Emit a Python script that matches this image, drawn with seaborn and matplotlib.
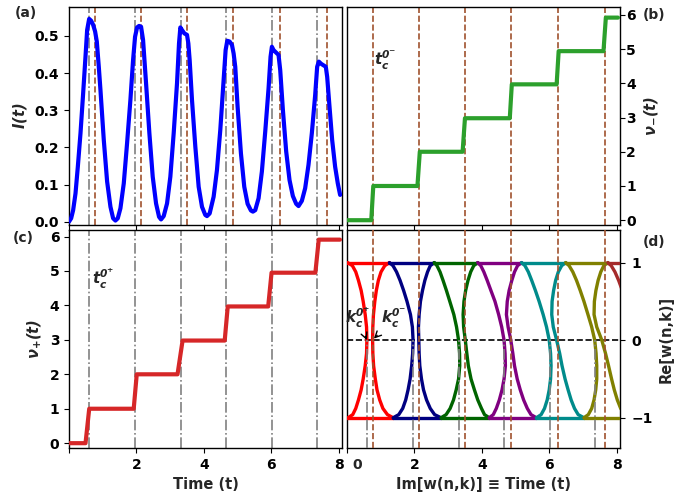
import matplotlib
matplotlib.use("Agg")
import matplotlib.pyplot as plt
import numpy as np
import pandas as pd
import seaborn as sns

# ---------------------------------------------------------------- data
# critical times of the two bands
T_PLUS = [0.59, 1.96, 3.31, 4.66, 6.01, 7.36]
T_MINUS = [0.76, 2.13, 3.51, 4.88, 6.26, 7.65]

# (a) return rate I(t)
TIME_I = [0.0, 0.064, 0.123, 0.193, 0.262, 0.341, 0.420, 0.489, 0.538, 0.598,
          0.657, 0.716, 0.775, 0.825, 0.884, 0.933, 1.032, 1.131, 1.230, 1.309,
          1.378, 1.447, 1.526, 1.625, 1.723, 1.822, 1.901, 1.960, 2.020, 2.079,
          2.138, 2.198, 2.286, 2.385, 2.484, 2.583, 2.672, 2.731, 2.810, 2.909,
          3.007, 3.106, 3.205, 3.264, 3.304, 3.353, 3.422, 3.501, 3.541, 3.580,
          3.649, 3.748, 3.847, 3.946, 4.044, 4.094, 4.173, 4.291, 4.390, 4.489,
          4.588, 4.647, 4.696, 4.765, 4.835, 4.884, 4.933, 5.002, 5.101, 5.200,
          5.299, 5.398, 5.457, 5.526, 5.625, 5.723, 5.822, 5.921, 5.980, 6.020,
          6.069, 6.148, 6.217, 6.267, 6.346, 6.444, 6.543, 6.642, 6.741, 6.810,
          6.909, 7.007, 7.106, 7.205, 7.304, 7.363, 7.412, 7.482, 7.551, 7.620,
          7.660, 7.729, 7.808, 7.896, 7.975, 8.044]
RATE_I = [0.0, 0.009, 0.031, 0.076, 0.148, 0.238, 0.346, 0.444, 0.516, 0.546,
          0.541, 0.530, 0.512, 0.485, 0.417, 0.355, 0.220, 0.108, 0.040, 0.009,
          0.003, 0.009, 0.036, 0.103, 0.211, 0.328, 0.435, 0.498, 0.523, 0.527,
          0.525, 0.489, 0.373, 0.238, 0.121, 0.049, 0.013, 0.006, 0.015, 0.049,
          0.121, 0.238, 0.373, 0.480, 0.523, 0.516, 0.507, 0.503, 0.480, 0.435,
          0.328, 0.202, 0.094, 0.040, 0.018, 0.015, 0.022, 0.067, 0.139, 0.247,
          0.382, 0.462, 0.487, 0.485, 0.476, 0.453, 0.417, 0.310, 0.184, 0.094,
          0.048, 0.030, 0.027, 0.031, 0.063, 0.135, 0.242, 0.359, 0.444, 0.471,
          0.462, 0.455, 0.449, 0.408, 0.301, 0.189, 0.112, 0.069, 0.048, 0.042,
          0.056, 0.090, 0.153, 0.238, 0.341, 0.417, 0.431, 0.425, 0.421, 0.417,
          0.390, 0.310, 0.220, 0.148, 0.103, 0.072]

# (b) winding number nu_-(t)
TIME_NM = [0.0, 0.72, 0.78, 2.09, 2.16, 3.43, 3.50, 4.83, 4.89, 6.22, 6.28,
           7.61, 7.68, 8.04]
NU_MINUS = [0.0, 0.0, 1.0, 1.0, 2.0, 2.0, 2.98, 2.98, 3.97, 3.97, 4.94, 4.94,
            5.92, 5.92]

# (c) winding number nu_+(t)
TIME_NP = [0.0, 0.49, 0.60, 1.92, 2.01, 3.22, 3.37, 4.62, 4.71, 5.91, 6.01,
           7.31, 7.41, 8.04]
NU_PLUS = [0.0, 0.0, 1.0, 1.0, 2.0, 2.0, 2.98, 2.98, 3.97, 3.97, 4.95, 4.95,
           5.91, 5.91]

# (d) Fisher-zero lines: Im[w] sampled at fixed Re[w]
RE_LEVELS = [1.0, 0.96, 0.88, 0.77, 0.64, 0.5, 0.33, 0.17, 0.0,
             -0.17, -0.33, -0.5, -0.64, -0.77, -0.88, -0.96, -1.0]
ZEROS_L0 = [0.02, 0.16, 0.26, 0.34, 0.42, 0.48, 0.54, 0.58, 0.59,
            0.58, 0.54, 0.48, 0.42, 0.34, 0.26, 0.17, 0.03]
ZEROS_R0 = [1.26, 1.12, 1.01, 0.93, 0.87, 0.825, 0.785, 0.766, 0.76,
            0.767, 0.79, 0.84, 0.89, 0.97, 1.065, 1.2, 1.37]
ZEROS_L1 = [1.26, 1.365, 1.47, 1.575, 1.68, 1.78, 1.883, 1.94, 1.96,
            1.948, 1.919, 1.872, 1.812, 1.742, 1.653, 1.535, 1.37]
ZEROS_R1 = [2.59, 2.47, 2.39, 2.31, 2.24, 2.18, 2.14, 2.12, 2.13,
            2.14, 2.16, 2.21, 2.27, 2.36, 2.47, 2.6, 2.79]
ZEROS_L2 = [2.59, 2.67, 2.76, 2.85, 2.95, 3.05, 3.17, 3.25, 3.31,
            3.34, 3.345, 3.31, 3.24, 3.16, 3.06, 2.94, 2.79]
ZEROS_R2 = [3.88, 3.76, 3.67, 3.59, 3.52, 3.47, 3.445, 3.46, 3.51,
            3.555, 3.60, 3.68, 3.78, 3.88, 3.99, 4.08, 4.22]
ZEROS_L3 = [3.88, 3.97, 4.06, 4.16, 4.27, 4.39, 4.50, 4.59, 4.66,
            4.69, 4.70, 4.66, 4.60, 4.52, 4.43, 4.34, 4.22]
ZEROS_R3 = [5.18, 5.06, 4.97, 4.89, 4.81, 4.755, 4.73, 4.78, 4.86,
            4.92, 4.97, 5.05, 5.14, 5.24, 5.35, 5.46, 5.62]
ZEROS_L4 = [5.18, 5.28, 5.38, 5.48, 5.59, 5.70, 5.82, 5.92, 6.0,
            6.04, 6.055, 6.04, 6.0, 5.94, 5.86, 5.76, 5.62]
ZEROS_R4 = [6.49, 6.37, 6.27, 6.19, 6.13, 6.085, 6.075, 6.12, 6.22,
            6.31, 6.38, 6.47, 6.56, 6.65, 6.75, 6.86, 7.03]
ZEROS_L5 = [6.49, 6.59, 6.70, 6.81, 6.92, 7.03, 7.15, 7.26, 7.35,
            7.39, 7.41, 7.41, 7.38, 7.33, 7.26, 7.16, 7.03]
ZEROS_R5 = [7.74, 7.62, 7.53, 7.45, 7.385, 7.34, 7.33, 7.41, 7.56,
            7.67, 7.76, 7.85, 7.93, 8.02, 8.12, 8.25, 8.44]
ZEROS_L6 = [7.74, 7.84, 7.95, 8.06, 8.17]
TOP_EDGES = [0.0, 1.26, 2.59, 3.88, 5.18, 6.49, 7.74, 9.04]
BOTTOM_EDGES = [0.0, 1.37, 2.79, 4.22, 5.62, 7.03, 8.44]
BAND_COLORS = ["red", "navy", "darkgreen", "purple", "darkcyan", "olive", "brown"]

# ---------------------------------------------------------------- style
sns.set_style("ticks")
plt.rcParams.update({
    "font.family": ["DejaVu Sans"],
    "font.weight": "bold",
    "axes.labelweight": "bold",
    "font.size": 10,
    "axes.labelsize": 10.5,
    "xtick.labelsize": 10,
    "ytick.labelsize": 10,
    "mathtext.fontset": "dejavusans",
    "axes.edgecolor": "black",
    "axes.linewidth": 1.0,
    "xtick.color": "black",
    "ytick.color": "black",
})

W, H = 693, 496
fig = plt.figure(figsize=(W / 100, H / 100), dpi=100)


def px_axes(left, top, right, bottom):
    return fig.add_axes([left / W, 1 - bottom / H, (right - left) / W, (bottom - top) / H])


ax_a = px_axes(69, 7, 342, 225)
ax_b = px_axes(347, 7, 620, 225)
ax_c = px_axes(69, 230, 342, 448)
ax_d = px_axes(347, 230, 620, 448)

GRAY = "gray"
SIENNA = "sienna"
XT = [0, 2, 4, 6, 8]

# (a) return rate
sns.lineplot(x=TIME_I, y=RATE_I, ax=ax_a, color="blue", lw=3, zorder=3)
for t in T_PLUS:
    ax_a.axvline(t, color=GRAY, ls="-.", lw=1.2, zorder=1)
for t in T_MINUS:
    ax_a.axvline(t, color=SIENNA, ls="--", lw=1.2, zorder=1)
ax_a.set_xlim(0, 8.1)
ax_a.set_ylim(-0.009, 0.578)
ax_a.set_yticks([0.0, 0.1, 0.2, 0.3, 0.4, 0.5])
ax_a.set_xticks(XT)
ax_a.set_xticklabels([])
ax_a.set_ylabel(r"$\mathbfit{I(t)}$")

# (b) nu_-
sns.lineplot(x=TIME_NM, y=NU_MINUS, ax=ax_b, color="#2ca02c", lw=3, zorder=3)
for t in T_MINUS:
    ax_b.axvline(t, color=SIENNA, ls="--", lw=1.2, zorder=1)
ax_b.set_xlim(0, 8.1)
ax_b.set_ylim(-0.14, 6.23)
ax_b.set_yticks(range(7))
ax_b.set_xticks(XT)
ax_b.set_xticklabels([])
ax_b.yaxis.tick_right()
ax_b.yaxis.set_label_position("right")
ax_b.tick_params(axis="y", pad=1)
ax_b.set_ylabel(r"$\mathbfit{\nu_{-}(t)}$")
ax_b.text(1.13, 4.68, r"$\mathbfit{t_c^{0^{-}}}$", ha="center", va="center", fontsize=11)

# (c) nu_+
sns.lineplot(x=TIME_NP, y=NU_PLUS, ax=ax_c, color="#d62728", lw=3, zorder=3)
for t in T_PLUS:
    ax_c.axvline(t, color=GRAY, ls="-.", lw=1.2, zorder=1)
ax_c.set_xlim(0, 8.1)
ax_c.set_ylim(-0.14, 6.19)
ax_c.set_yticks(range(7))
ax_c.set_xticks(XT)
ax_c.set_xticklabels(["", "2", "4", "6", "8"])
ax_c.set_xlabel("Time (t)")
ax_c.set_ylabel(r"$\mathbfit{\nu_{+}(t)}$")
ax_c.text(1.02, 4.77, r"$\mathbfit{t_c^{0^{+}}}$", ha="center", va="center", fontsize=11)

# (d) zero lines, each band drawn as a closed loop of four pieces
left_lines = [ZEROS_L0, ZEROS_L1, ZEROS_L2, ZEROS_L3, ZEROS_L4, ZEROS_L5, ZEROS_L6]
right_lines = [ZEROS_R0, ZEROS_R1, ZEROS_R2, ZEROS_R3, ZEROS_R4, ZEROS_R5]
pieces = []
for n, col in enumerate(BAND_COLORS):
    lt = left_lines[n]
    pieces.append((list(lt), RE_LEVELS[:len(lt)], col))
    pieces.append(([TOP_EDGES[n], TOP_EDGES[n + 1]], [1.0, 1.0], col))
    if n < len(right_lines):
        pieces.append((list(right_lines[n]), RE_LEVELS, col))
        pieces.append(([BOTTOM_EDGES[n], BOTTOM_EDGES[n + 1]], [-1.0, -1.0], col))
for xs, ys, col in pieces:
    seg = pd.DataFrame({"im": xs, "re": ys})
    sns.lineplot(data=seg, x="im", y="re", sort=False, estimator=None,
                 color=col, lw=2.4, ax=ax_d, zorder=3, solid_capstyle="round",
                 solid_joinstyle="round")
ax_d.set_xlim(0, 8.1)
ax_d.set_ylim(-1.39, 1.42)
ax_d.axhline(0, color="black", ls="--", lw=1.2, zorder=2)
for t in T_MINUS:
    ax_d.axvline(t, color=SIENNA, ls="--", lw=1.2, zorder=4)
y0, y1 = ax_d.get_ylim()
for t in T_PLUS:
    ax_d.axvline(t, ymax=(0 - y0) / (y1 - y0), color=GRAY, ls="-.", lw=1.2, zorder=4)
ax_d.set_yticks([-1, 0, 1])
ax_d.set_xticks(XT)
ax_d.set_xticklabels(["", "2", "4", "6", "8"])
ax_d.yaxis.tick_right()
ax_d.yaxis.set_label_position("right")
ax_d.tick_params(axis="y", pad=5)
ax_d.set_ylabel("Re[w(n,k)]")
ax_d.set_xlabel("Im[w(n,k)] \u2261 Time (t)")
ax_d.text(0.3, -0.045, "0", transform=ax_d.get_xaxis_transform(),
          ha="center", va="top", fontsize=10)
ax_d.annotate(r"$\mathbfit{k_c^{0^{+}}}$", xy=(T_PLUS[0], 0.0), xytext=(0.33, 0.28),
              ha="center", va="center", fontsize=11, zorder=6,
              arrowprops=dict(arrowstyle="->", color="black", lw=1, shrinkA=2, shrinkB=0))
ax_d.annotate(r"$\mathbfit{k_c^{0^{-}}}$", xy=(T_MINUS[0] + 0.04, 0.02), xytext=(1.38, 0.28),
              ha="center", va="center", fontsize=11, zorder=6,
              arrowprops=dict(arrowstyle="->", color="black", lw=1, shrinkA=2, shrinkB=0))

# panel tags
for tag, (xp, yp) in {"(a)": (26, 13), "(b)": (654, 15),
                      "(c)": (23, 238), "(d)": (654, 242)}.items():
    fig.text(xp / W, 1 - yp / H, tag, ha="center", va="center", fontsize=10, weight="bold")

fig.savefig("out.png", dpi=100)
